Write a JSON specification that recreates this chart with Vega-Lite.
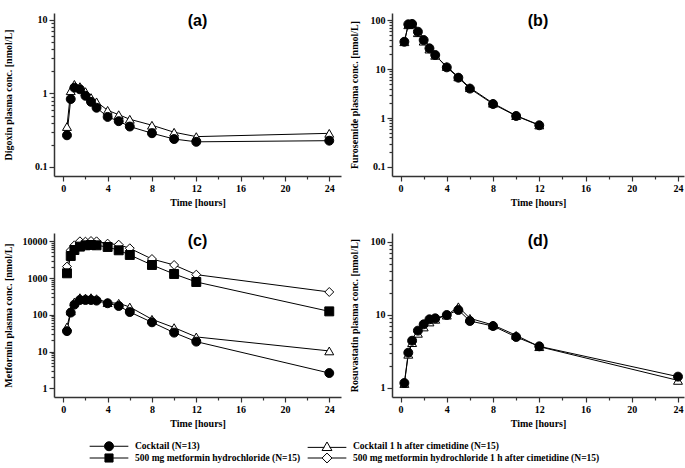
{
  "$schema": "https://vega.github.io/schema/vega-lite/v6.json",
  "padding": {"left": 3, "top": 13, "right": 0, "bottom": 0},
  "background": "white",
  "config": {
    "view": {"stroke": null},
    "axis": {"grid": false, "domainColor": "#333", "domainWidth": 1.5, "tickColor": "#333", "tickWidth": 1.2, "labelFont": "Liberation Serif", "labelFontWeight": "bold", "labelFontSize": 10, "labelColor": "black", "titleFont": "Liberation Serif", "titleFontWeight": "bold", "titleFontSize": 10, "titleColor": "black", "labelFlush": false, "labelOverlap": false},
    "title": {"font": "Liberation Sans", "fontSize": 16, "fontWeight": "bold", "color": "black", "anchor": "middle", "offset": -16}
  },
  "data": {"values": [
    {"panel":"a","series":"Cocktail 1 h after cimetidine (N=15)","time":0.33,"conc":0.355},
    {"panel":"a","series":"Cocktail 1 h after cimetidine (N=15)","time":0.67,"conc":1.09},
    {"panel":"a","series":"Cocktail 1 h after cimetidine (N=15)","time":1,"conc":1.33},
    {"panel":"a","series":"Cocktail 1 h after cimetidine (N=15)","time":1.5,"conc":1.24},
    {"panel":"a","series":"Cocktail 1 h after cimetidine (N=15)","time":2,"conc":1.06},
    {"panel":"a","series":"Cocktail 1 h after cimetidine (N=15)","time":2.5,"conc":0.88},
    {"panel":"a","series":"Cocktail 1 h after cimetidine (N=15)","time":3,"conc":0.77},
    {"panel":"a","series":"Cocktail 1 h after cimetidine (N=15)","time":4,"conc":0.59},
    {"panel":"a","series":"Cocktail 1 h after cimetidine (N=15)","time":5,"conc":0.515},
    {"panel":"a","series":"Cocktail 1 h after cimetidine (N=15)","time":6,"conc":0.446},
    {"panel":"a","series":"Cocktail 1 h after cimetidine (N=15)","time":8,"conc":0.37},
    {"panel":"a","series":"Cocktail 1 h after cimetidine (N=15)","time":10,"conc":0.297},
    {"panel":"a","series":"Cocktail 1 h after cimetidine (N=15)","time":12,"conc":0.259},
    {"panel":"a","series":"Cocktail 1 h after cimetidine (N=15)","time":24,"conc":0.287},
    {"panel":"a","series":"Cocktail (N=13)","time":0.33,"conc":0.27},
    {"panel":"a","series":"Cocktail (N=13)","time":0.67,"conc":0.84},
    {"panel":"a","series":"Cocktail (N=13)","time":1,"conc":1.2},
    {"panel":"a","series":"Cocktail (N=13)","time":1.5,"conc":1.14},
    {"panel":"a","series":"Cocktail (N=13)","time":2,"conc":0.93},
    {"panel":"a","series":"Cocktail (N=13)","time":2.5,"conc":0.77},
    {"panel":"a","series":"Cocktail (N=13)","time":3,"conc":0.64},
    {"panel":"a","series":"Cocktail (N=13)","time":4,"conc":0.48},
    {"panel":"a","series":"Cocktail (N=13)","time":5,"conc":0.42},
    {"panel":"a","series":"Cocktail (N=13)","time":6,"conc":0.355},
    {"panel":"a","series":"Cocktail (N=13)","time":8,"conc":0.288},
    {"panel":"a","series":"Cocktail (N=13)","time":10,"conc":0.24},
    {"panel":"a","series":"Cocktail (N=13)","time":12,"conc":0.22},
    {"panel":"a","series":"Cocktail (N=13)","time":24,"conc":0.228},

    {"panel":"b","series":"Cocktail 1 h after cimetidine (N=15)","time":0.33,"conc":36},
    {"panel":"b","series":"Cocktail 1 h after cimetidine (N=15)","time":0.67,"conc":80},
    {"panel":"b","series":"Cocktail 1 h after cimetidine (N=15)","time":1,"conc":85},
    {"panel":"b","series":"Cocktail 1 h after cimetidine (N=15)","time":1.5,"conc":55},
    {"panel":"b","series":"Cocktail 1 h after cimetidine (N=15)","time":2,"conc":37},
    {"panel":"b","series":"Cocktail 1 h after cimetidine (N=15)","time":2.5,"conc":25.5},
    {"panel":"b","series":"Cocktail 1 h after cimetidine (N=15)","time":3,"conc":19},
    {"panel":"b","series":"Cocktail 1 h after cimetidine (N=15)","time":4,"conc":11.2},
    {"panel":"b","series":"Cocktail 1 h after cimetidine (N=15)","time":5,"conc":6.9},
    {"panel":"b","series":"Cocktail 1 h after cimetidine (N=15)","time":6,"conc":4.15},
    {"panel":"b","series":"Cocktail 1 h after cimetidine (N=15)","time":8,"conc":2.0},
    {"panel":"b","series":"Cocktail 1 h after cimetidine (N=15)","time":10,"conc":1.12},
    {"panel":"b","series":"Cocktail 1 h after cimetidine (N=15)","time":12,"conc":0.72},
    {"panel":"b","series":"Cocktail (N=13)","time":0.33,"conc":36},
    {"panel":"b","series":"Cocktail (N=13)","time":0.67,"conc":81.7},
    {"panel":"b","series":"Cocktail (N=13)","time":1,"conc":83},
    {"panel":"b","series":"Cocktail (N=13)","time":1.5,"conc":57.8},
    {"panel":"b","series":"Cocktail (N=13)","time":2,"conc":39},
    {"panel":"b","series":"Cocktail (N=13)","time":2.5,"conc":26.4},
    {"panel":"b","series":"Cocktail (N=13)","time":3,"conc":19.3},
    {"panel":"b","series":"Cocktail (N=13)","time":4,"conc":10.8},
    {"panel":"b","series":"Cocktail (N=13)","time":5,"conc":6.65},
    {"panel":"b","series":"Cocktail (N=13)","time":6,"conc":3.98},
    {"panel":"b","series":"Cocktail (N=13)","time":8,"conc":1.93},
    {"panel":"b","series":"Cocktail (N=13)","time":10,"conc":1.1},
    {"panel":"b","series":"Cocktail (N=13)","time":12,"conc":0.71},

    {"panel":"c","series":"Cocktail 1 h after cimetidine (N=15)","time":0.33,"conc":46.7},
    {"panel":"c","series":"Cocktail 1 h after cimetidine (N=15)","time":0.67,"conc":127},
    {"panel":"c","series":"Cocktail 1 h after cimetidine (N=15)","time":1,"conc":223},
    {"panel":"c","series":"Cocktail 1 h after cimetidine (N=15)","time":1.5,"conc":293},
    {"panel":"c","series":"Cocktail 1 h after cimetidine (N=15)","time":2,"conc":287},
    {"panel":"c","series":"Cocktail 1 h after cimetidine (N=15)","time":2.5,"conc":293},
    {"panel":"c","series":"Cocktail 1 h after cimetidine (N=15)","time":3,"conc":275},
    {"panel":"c","series":"Cocktail 1 h after cimetidine (N=15)","time":4,"conc":214},
    {"panel":"c","series":"Cocktail 1 h after cimetidine (N=15)","time":5,"conc":206},
    {"panel":"c","series":"Cocktail 1 h after cimetidine (N=15)","time":6,"conc":163},
    {"panel":"c","series":"Cocktail 1 h after cimetidine (N=15)","time":8,"conc":75.5},
    {"panel":"c","series":"Cocktail 1 h after cimetidine (N=15)","time":10,"conc":44.8},
    {"panel":"c","series":"Cocktail 1 h after cimetidine (N=15)","time":12,"conc":25},
    {"panel":"c","series":"Cocktail 1 h after cimetidine (N=15)","time":24,"conc":10.4},
    {"panel":"c","series":"Cocktail (N=13)","time":0.33,"conc":36},
    {"panel":"c","series":"Cocktail (N=13)","time":0.67,"conc":115},
    {"panel":"c","series":"Cocktail (N=13)","time":1,"conc":189},
    {"panel":"c","series":"Cocktail (N=13)","time":1.5,"conc":253},
    {"panel":"c","series":"Cocktail (N=13)","time":2,"conc":253},
    {"panel":"c","series":"Cocktail (N=13)","time":2.5,"conc":253},
    {"panel":"c","series":"Cocktail (N=13)","time":3,"conc":243},
    {"panel":"c","series":"Cocktail (N=13)","time":4,"conc":206},
    {"panel":"c","series":"Cocktail (N=13)","time":5,"conc":174},
    {"panel":"c","series":"Cocktail (N=13)","time":6,"conc":119},
    {"panel":"c","series":"Cocktail (N=13)","time":8,"conc":62.5},
    {"panel":"c","series":"Cocktail (N=13)","time":10,"conc":32.7},
    {"panel":"c","series":"Cocktail (N=13)","time":12,"conc":18.6},
    {"panel":"c","series":"Cocktail (N=13)","time":24,"conc":2.6},
    {"panel":"c","series":"500 mg metformin hydrochloride 1 h after cimetidine (N=15)","time":0.33,"conc":2050},
    {"panel":"c","series":"500 mg metformin hydrochloride 1 h after cimetidine (N=15)","time":0.67,"conc":5690},
    {"panel":"c","series":"500 mg metformin hydrochloride 1 h after cimetidine (N=15)","time":1,"conc":7780},
    {"panel":"c","series":"500 mg metformin hydrochloride 1 h after cimetidine (N=15)","time":1.5,"conc":10000},
    {"panel":"c","series":"500 mg metformin hydrochloride 1 h after cimetidine (N=15)","time":2,"conc":9800},
    {"panel":"c","series":"500 mg metformin hydrochloride 1 h after cimetidine (N=15)","time":2.5,"conc":10200},
    {"panel":"c","series":"500 mg metformin hydrochloride 1 h after cimetidine (N=15)","time":3,"conc":10000},
    {"panel":"c","series":"500 mg metformin hydrochloride 1 h after cimetidine (N=15)","time":4,"conc":8650},
    {"panel":"c","series":"500 mg metformin hydrochloride 1 h after cimetidine (N=15)","time":5,"conc":8110},
    {"panel":"c","series":"500 mg metformin hydrochloride 1 h after cimetidine (N=15)","time":6,"conc":6450},
    {"panel":"c","series":"500 mg metformin hydrochloride 1 h after cimetidine (N=15)","time":8,"conc":3300},
    {"panel":"c","series":"500 mg metformin hydrochloride 1 h after cimetidine (N=15)","time":10,"conc":2270},
    {"panel":"c","series":"500 mg metformin hydrochloride 1 h after cimetidine (N=15)","time":12,"conc":1240},
    {"panel":"c","series":"500 mg metformin hydrochloride 1 h after cimetidine (N=15)","time":24,"conc":418},
    {"panel":"c","series":"500 mg metformin hydrochloride (N=15)","time":0.33,"conc":1346},
    {"panel":"c","series":"500 mg metformin hydrochloride (N=15)","time":0.67,"conc":3990},
    {"panel":"c","series":"500 mg metformin hydrochloride (N=15)","time":1,"conc":5800},
    {"panel":"c","series":"500 mg metformin hydrochloride (N=15)","time":1.5,"conc":7170},
    {"panel":"c","series":"500 mg metformin hydrochloride (N=15)","time":2,"conc":7780},
    {"panel":"c","series":"500 mg metformin hydrochloride (N=15)","time":2.5,"conc":7950},
    {"panel":"c","series":"500 mg metformin hydrochloride (N=15)","time":3,"conc":7780},
    {"panel":"c","series":"500 mg metformin hydrochloride (N=15)","time":4,"conc":7010},
    {"panel":"c","series":"500 mg metformin hydrochloride (N=15)","time":5,"conc":5690},
    {"panel":"c","series":"500 mg metformin hydrochloride (N=15)","time":6,"conc":4250},
    {"panel":"c","series":"500 mg metformin hydrochloride (N=15)","time":8,"conc":2270},
    {"panel":"c","series":"500 mg metformin hydrochloride (N=15)","time":10,"conc":1290},
    {"panel":"c","series":"500 mg metformin hydrochloride (N=15)","time":12,"conc":782},
    {"panel":"c","series":"500 mg metformin hydrochloride (N=15)","time":24,"conc":124},

    {"panel":"d","series":"Cocktail 1 h after cimetidine (N=15)","time":0.33,"conc":1.15},
    {"panel":"d","series":"Cocktail 1 h after cimetidine (N=15)","time":0.67,"conc":2.89},
    {"panel":"d","series":"Cocktail 1 h after cimetidine (N=15)","time":1,"conc":4.17},
    {"panel":"d","series":"Cocktail 1 h after cimetidine (N=15)","time":1.5,"conc":5.59},
    {"panel":"d","series":"Cocktail 1 h after cimetidine (N=15)","time":2,"conc":6.82},
    {"panel":"d","series":"Cocktail 1 h after cimetidine (N=15)","time":2.5,"conc":7.98},
    {"panel":"d","series":"Cocktail 1 h after cimetidine (N=15)","time":3,"conc":8.69},
    {"panel":"d","series":"Cocktail 1 h after cimetidine (N=15)","time":4,"conc":9.9},
    {"panel":"d","series":"Cocktail 1 h after cimetidine (N=15)","time":5,"conc":12.9},
    {"panel":"d","series":"Cocktail 1 h after cimetidine (N=15)","time":6,"conc":8.96},
    {"panel":"d","series":"Cocktail 1 h after cimetidine (N=15)","time":8,"conc":7.26},
    {"panel":"d","series":"Cocktail 1 h after cimetidine (N=15)","time":10,"conc":5.25},
    {"panel":"d","series":"Cocktail 1 h after cimetidine (N=15)","time":12,"conc":3.67},
    {"panel":"d","series":"Cocktail 1 h after cimetidine (N=15)","time":24,"conc":1.27},
    {"panel":"d","series":"Cocktail (N=13)","time":0.33,"conc":1.17},
    {"panel":"d","series":"Cocktail (N=13)","time":0.67,"conc":3.04},
    {"panel":"d","series":"Cocktail (N=13)","time":1,"conc":4.43},
    {"panel":"d","series":"Cocktail (N=13)","time":1.5,"conc":6.08},
    {"panel":"d","series":"Cocktail (N=13)","time":2,"conc":7.42},
    {"panel":"d","series":"Cocktail (N=13)","time":2.5,"conc":8.69},
    {"panel":"d","series":"Cocktail (N=13)","time":3,"conc":8.96},
    {"panel":"d","series":"Cocktail (N=13)","time":4,"conc":9.95},
    {"panel":"d","series":"Cocktail (N=13)","time":5,"conc":11.65},
    {"panel":"d","series":"Cocktail (N=13)","time":6,"conc":8.24},
    {"panel":"d","series":"Cocktail (N=13)","time":8,"conc":7.03},
    {"panel":"d","series":"Cocktail (N=13)","time":10,"conc":4.98},
    {"panel":"d","series":"Cocktail (N=13)","time":12,"conc":3.71},
    {"panel":"d","series":"Cocktail (N=13)","time":24,"conc":1.43}
  ]},
  "spacing": 26,
  "vconcat": [
    {
      "spacing": 51,
      "bounds": "flush",
      "hconcat": [
        {
          "width": 287, "height": 163,
          "title": {"text": "(a)"},
          "transform": [{"filter": "datum.panel == 'a'"}],
          "encoding": {
            "x": {"field": "time", "type": "quantitative", "scale": {"domain": [-0.84, 25.06], "nice": false, "zero": false},
              "axis": {"title": "Time [hours]", "titlePadding": 4, "values": [0,2,4,6,8,10,12,14,16,18,20,22,24], "labelExpr": "datum.value % 4 == 0 ? datum.label : ''", "tickSize": {"condition": {"test": "datum.value % 4 == 0", "value": 5}, "value": 3}}},
            "y": {"field": "conc", "type": "quantitative", "scale": {"type": "log", "domain": [0.0754, 12.45], "nice": false},
              "axis": {"title": "Digoxin plasma conc. [nmol/L]", "titleX": -41, "titleY": 81.5, "values": [0.1,0.2,0.3,0.4,0.5,0.6,0.7,0.8,0.9,1,2,3,4,5,6,7,8,9,10], "labelExpr": "indexof([0.1,1,10,100,1000,10000], datum.value) >= 0 ? '' + datum.value : ''", "tickSize": {"condition": {"test": "indexof([0.1,1,10,100,1000,10000], datum.value) >= 0", "value": 5}, "value": 3}}}
          },
          "layer": [
            {"mark": {"type": "line", "color": "black", "strokeWidth": 1}, "encoding": {"detail": {"field": "series"}}},
            {"mark": {"type": "point", "filled": true, "stroke": "black", "strokeWidth": 1, "opacity": 1, "size": 80},
              "encoding": {
                "shape": {"field": "series", "type": "nominal", "legend": null, "scale": {"domain": ["Cocktail (N=13)", "Cocktail 1 h after cimetidine (N=15)", "500 mg metformin hydrochloride (N=15)", "500 mg metformin hydrochloride 1 h after cimetidine (N=15)"], "range": ["circle", "triangle-up", "square", "diamond"]}},
                "fill": {"field": "series", "type": "nominal", "legend": null, "scale": {"domain": ["Cocktail (N=13)", "Cocktail 1 h after cimetidine (N=15)", "500 mg metformin hydrochloride (N=15)", "500 mg metformin hydrochloride 1 h after cimetidine (N=15)"], "range": ["black", "white", "black", "white"]}}
              }}
          ]
        },
        {
          "width": 292, "height": 163,
          "title": {"text": "(b)"},
          "transform": [{"filter": "datum.panel == 'b'"}],
          "encoding": {
            "x": {"field": "time", "type": "quantitative", "scale": {"domain": [-0.74, 24.52], "nice": false, "zero": false},
              "axis": {"title": "Time [hours]", "titlePadding": 4, "values": [0,2,4,6,8,10,12,14,16,18,20,22,24], "labelExpr": "datum.value % 4 == 0 ? datum.label : ''", "tickSize": {"condition": {"test": "datum.value % 4 == 0", "value": 5}, "value": 3}}},
            "y": {"field": "conc", "type": "quantitative", "scale": {"type": "log", "domain": [0.0655, 139], "nice": false},
              "axis": {"title": "Furosemide plasma conc. [nmol/L]", "titleX": -33, "titleY": 81.5, "values": [0.1,0.2,0.3,0.4,0.5,0.6,0.7,0.8,0.9,1,2,3,4,5,6,7,8,9,10,20,30,40,50,60,70,80,90,100], "labelExpr": "indexof([0.1,1,10,100,1000,10000], datum.value) >= 0 ? '' + datum.value : ''", "tickSize": {"condition": {"test": "indexof([0.1,1,10,100,1000,10000], datum.value) >= 0", "value": 5}, "value": 3}}}
          },
          "layer": [
            {"mark": {"type": "line", "color": "black", "strokeWidth": 1}, "encoding": {"detail": {"field": "series"}}},
            {"mark": {"type": "point", "filled": true, "stroke": "black", "strokeWidth": 1, "opacity": 1, "size": 80},
              "encoding": {
                "shape": {"field": "series", "type": "nominal", "legend": null, "scale": {"domain": ["Cocktail (N=13)", "Cocktail 1 h after cimetidine (N=15)", "500 mg metformin hydrochloride (N=15)", "500 mg metformin hydrochloride 1 h after cimetidine (N=15)"], "range": ["circle", "triangle-up", "square", "diamond"]}},
                "fill": {"field": "series", "type": "nominal", "legend": null, "scale": {"domain": ["Cocktail (N=13)", "Cocktail 1 h after cimetidine (N=15)", "500 mg metformin hydrochloride (N=15)", "500 mg metformin hydrochloride 1 h after cimetidine (N=15)"], "range": ["black", "white", "black", "white"]}}
              }}
          ]
        }
      ]
    },
    {
      "spacing": 51,
      "bounds": "flush",
      "hconcat": [
        {
          "width": 287, "height": 164,
          "title": {"text": "(c)"},
          "transform": [{"filter": "datum.panel == 'c'"}],
          "encoding": {
            "x": {"field": "time", "type": "quantitative", "scale": {"domain": [-0.84, 25.06], "nice": false, "zero": false},
              "axis": {"title": "Time [hours]", "titlePadding": 4, "values": [0,2,4,6,8,10,12,14,16,18,20,22,24], "labelExpr": "datum.value % 4 == 0 ? datum.label : ''", "tickSize": {"condition": {"test": "datum.value % 4 == 0", "value": 5}, "value": 3}}},
            "y": {"field": "conc", "type": "quantitative", "scale": {"type": "log", "domain": [0.58, 16830], "nice": false},
              "axis": {"title": "Metformin plasma conc. [nmol/L]", "titleX": -41, "titleY": 82, "values": [1,2,3,4,5,6,7,8,9,10,20,30,40,50,60,70,80,90,100,200,300,400,500,600,700,800,900,1000,2000,3000,4000,5000,6000,7000,8000,9000,10000], "labelExpr": "indexof([0.1,1,10,100,1000,10000], datum.value) >= 0 ? '' + datum.value : ''", "tickSize": {"condition": {"test": "indexof([0.1,1,10,100,1000,10000], datum.value) >= 0", "value": 5}, "value": 3}}}
          },
          "resolve": {"scale": {"shape": "independent", "fill": "independent"}},
          "layer": [
            {"mark": {"type": "line", "color": "black", "strokeWidth": 1}, "encoding": {"detail": {"field": "series"}}},
            {"mark": {"type": "point", "filled": true, "stroke": "black", "strokeWidth": 1, "opacity": 1, "size": 80},
              "encoding": {
                "shape": {"field": "series", "type": "nominal", "legend": null, "scale": {"domain": ["Cocktail (N=13)", "Cocktail 1 h after cimetidine (N=15)", "500 mg metformin hydrochloride (N=15)", "500 mg metformin hydrochloride 1 h after cimetidine (N=15)"], "range": ["circle", "triangle-up", "square", "diamond"]}},
                "fill": {"field": "series", "type": "nominal", "legend": null, "scale": {"domain": ["Cocktail (N=13)", "Cocktail 1 h after cimetidine (N=15)", "500 mg metformin hydrochloride (N=15)", "500 mg metformin hydrochloride 1 h after cimetidine (N=15)"], "range": ["black", "white", "black", "white"]}}
              }},
            {"transform": [{"filter": "false"}],
              "mark": {"type": "point", "filled": true, "stroke": "black", "strokeWidth": 1, "opacity": 1},
              "encoding": {
                "shape": {"field": "series", "type": "nominal",
                  "scale": {"domain": ["Cocktail (N=13)", "Cocktail 1 h after cimetidine (N=15)", "500 mg metformin hydrochloride (N=15)", "500 mg metformin hydrochloride 1 h after cimetidine (N=15)"],
                    "range": ["M-4.3,0L-1,0M1,0L4.3,0M-1,0A1,1,0,1,0,1,0A1,1,0,1,0,-1,0Z", "M-4.3,0.2L-0.6,0.2M0.6,0.2L4.3,0.2M0,-1L1.1,0.9L-1.1,0.9Z", "M-4.3,0L-0.9,0M0.9,0L4.3,0M-0.9,-0.9L0.9,-0.9L0.9,0.9L-0.9,0.9Z", "M-4.3,0L-1.1,0M1.1,0L4.3,0M0,-1.1L1.1,0L0,1.1L-1.1,0Z"]},
                  "legend": {"title": null, "orient": "none", "direction": "horizontal", "legendX": 35, "legendY": 208, "columns": 2, "symbolSize": 81, "symbolStrokeColor": "black", "symbolStrokeWidth": 1, "symbolOffset": 15, "labelOffset": 21, "columnPadding": 4, "rowPadding": -3, "padding": 0, "labelFont": "Liberation Serif", "labelFontWeight": "bold", "labelFontSize": 9.5, "labelColor": "black", "labelLimit": 0, "symbolOpacity": 1,
                    "encode": {"symbols": {"update": {"stroke": {"value": "black"}, "strokeWidth": {"value": 1}, "opacity": {"value": 1}}}}}},
                "fill": {"field": "series", "type": "nominal",
                  "scale": {"domain": ["Cocktail (N=13)", "Cocktail 1 h after cimetidine (N=15)", "500 mg metformin hydrochloride (N=15)", "500 mg metformin hydrochloride 1 h after cimetidine (N=15)"], "range": ["black", "white", "black", "white"]},
                  "legend": {"title": null, "orient": "none", "direction": "horizontal", "legendX": 35, "legendY": 208, "columns": 2, "symbolSize": 81, "symbolStrokeColor": "black", "symbolStrokeWidth": 1, "symbolOffset": 15, "labelOffset": 21, "columnPadding": 4, "rowPadding": -3, "padding": 0, "labelFont": "Liberation Serif", "labelFontWeight": "bold", "labelFontSize": 9.5, "labelColor": "black", "labelLimit": 0, "symbolOpacity": 1,
                    "encode": {"symbols": {"update": {"stroke": {"value": "black"}, "strokeWidth": {"value": 1}, "opacity": {"value": 1}}}}}}
              }}
          ]
        },
        {
          "width": 292, "height": 164,
          "title": {"text": "(d)"},
          "transform": [{"filter": "datum.panel == 'd'"}],
          "encoding": {
            "x": {"field": "time", "type": "quantitative", "scale": {"domain": [-0.74, 24.52], "nice": false, "zero": false},
              "axis": {"title": "Time [hours]", "titlePadding": 4, "values": [0,2,4,6,8,10,12,14,16,18,20,22,24], "labelExpr": "datum.value % 4 == 0 ? datum.label : ''", "tickSize": {"condition": {"test": "datum.value % 4 == 0", "value": 5}, "value": 3}}},
            "y": {"field": "conc", "type": "quantitative", "scale": {"type": "log", "domain": [0.753, 131.5], "nice": false},
              "axis": {"title": "Rosuvastatin plasma conc. [nmol/L]", "titleX": -33, "titleY": 82, "values": [1,2,3,4,5,6,7,8,9,10,20,30,40,50,60,70,80,90,100], "labelExpr": "indexof([0.1,1,10,100,1000,10000], datum.value) >= 0 ? '' + datum.value : ''", "tickSize": {"condition": {"test": "indexof([0.1,1,10,100,1000,10000], datum.value) >= 0", "value": 5}, "value": 3}}}
          },
          "layer": [
            {"mark": {"type": "line", "color": "black", "strokeWidth": 1}, "encoding": {"detail": {"field": "series"}}},
            {"mark": {"type": "point", "filled": true, "stroke": "black", "strokeWidth": 1, "opacity": 1, "size": 80},
              "encoding": {
                "shape": {"field": "series", "type": "nominal", "legend": null, "scale": {"domain": ["Cocktail (N=13)", "Cocktail 1 h after cimetidine (N=15)", "500 mg metformin hydrochloride (N=15)", "500 mg metformin hydrochloride 1 h after cimetidine (N=15)"], "range": ["circle", "triangle-up", "square", "diamond"]}},
                "fill": {"field": "series", "type": "nominal", "legend": null, "scale": {"domain": ["Cocktail (N=13)", "Cocktail 1 h after cimetidine (N=15)", "500 mg metformin hydrochloride (N=15)", "500 mg metformin hydrochloride 1 h after cimetidine (N=15)"], "range": ["black", "white", "black", "white"]}}
              }}
          ]
        }
      ]
    }
  ]
}
